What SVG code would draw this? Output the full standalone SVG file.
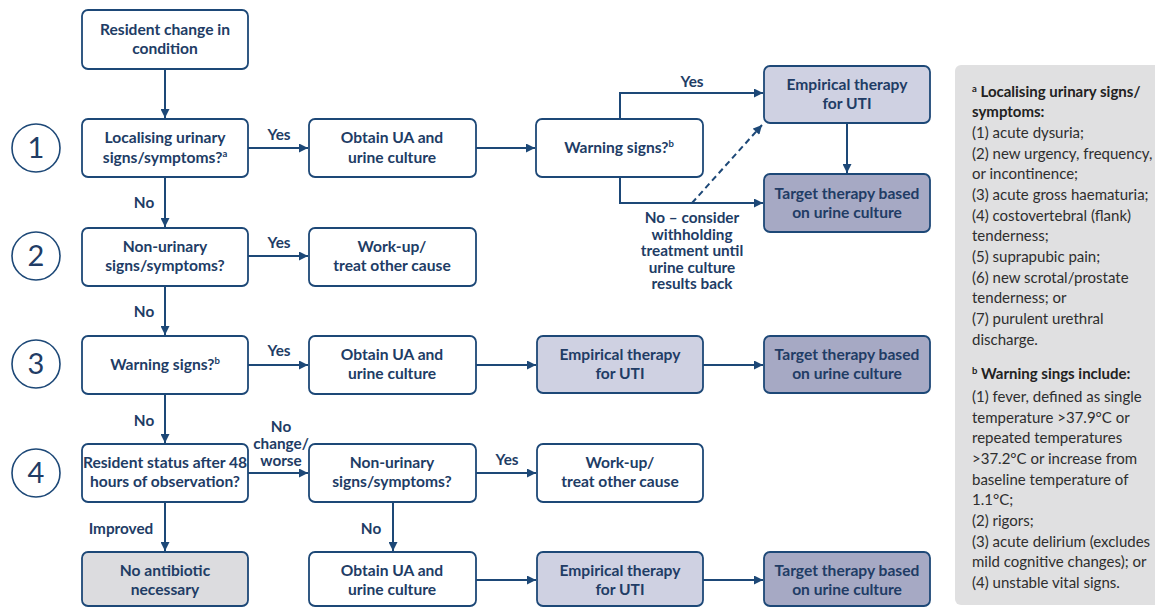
<svg xmlns="http://www.w3.org/2000/svg" width="1155" height="608" viewBox="0 0 1155 608">
<defs>
<style>
.box{fill:#fff;stroke:#1d4877;stroke-width:1.8}
.emp{fill:#cfd1e2;stroke:#1d4877;stroke-width:1.8}
.tgt{fill:#a6a9c4;stroke:#1d4877;stroke-width:1.8}
.none{fill:#dcdcdf;stroke:#1d4877;stroke-width:1.8}
.t{font-family:Lato,"Liberation Sans",sans-serif;font-size:15.6px;font-weight:700;fill:#213c65;text-anchor:middle}
.lbl{font-family:Lato,"Liberation Sans",sans-serif;font-size:15.3px;font-weight:700;fill:#213c65;text-anchor:middle}
.num{font-family:Lato,"Liberation Sans",sans-serif;font-size:29px;fill:#213c65;text-anchor:middle}
.circ{fill:#fff;stroke:#1d4877;stroke-width:1.6}
.ln{fill:none;stroke:#1d4877;stroke-width:2}
.dash{fill:none;stroke:#1d4877;stroke-width:2;stroke-dasharray:6 4}
.p{font-family:Lato,"Liberation Sans",sans-serif;font-size:15px;fill:#2e2e2e;}
.ph{font-family:Lato,"Liberation Sans",sans-serif;font-size:15px;font-weight:700;fill:#222;}
.sup{font-size:9.5px}
</style>
<marker id="ah" viewBox="0 0 10 10" refX="10" refY="5" markerWidth="10" markerHeight="9" markerUnits="userSpaceOnUse" orient="auto">
<path d="M0,0 L10,5 L0,10 z" fill="#1d4877"/>
</marker>
</defs>

<g id="steps">
<g id="step1"><circle class="circ" cx="36" cy="148" r="24"/><text class="num" x="36" y="158">1</text></g>
<g id="step2"><circle class="circ" cx="36" cy="256" r="24"/><text class="num" x="36" y="266">2</text></g>
<g id="step3"><circle class="circ" cx="36" cy="364" r="24"/><text class="num" x="36" y="374">3</text></g>
<g id="step4"><circle class="circ" cx="36" cy="473" r="24"/><text class="num" x="36" y="483">4</text></g>
</g>

<g id="connectors">
<path class="ln" d="M165,69 V118" marker-end="url(#ah)"/>
<path class="ln" d="M248,148 H308" marker-end="url(#ah)"/>
<path class="ln" d="M476,148 H535" marker-end="url(#ah)"/>
<path class="ln" d="M620,119 V93 H763" marker-end="url(#ah)"/>
<path class="ln" d="M620,177 V203 H763" marker-end="url(#ah)"/>
<path class="dash" d="M692,203 L762,125" marker-end="url(#ah)"/>
<path class="ln" d="M847,123 V173" marker-end="url(#ah)"/>
<path class="ln" d="M165,177 V227" marker-end="url(#ah)"/>
<path class="ln" d="M248,256 H308" marker-end="url(#ah)"/>
<path class="ln" d="M165,286 V335" marker-end="url(#ah)"/>
<path class="ln" d="M248,365 H308" marker-end="url(#ah)"/>
<path class="ln" d="M476,365 H536" marker-end="url(#ah)"/>
<path class="ln" d="M703,365 H763" marker-end="url(#ah)"/>
<path class="ln" d="M165,394 V443" marker-end="url(#ah)"/>
<path class="ln" d="M248,473 H308" marker-end="url(#ah)"/>
<path class="ln" d="M476,473 H536" marker-end="url(#ah)"/>
<path class="ln" d="M165,502 V551" marker-end="url(#ah)"/>
<path class="ln" d="M393,502 V551" marker-end="url(#ah)"/>
<path class="ln" d="M476,580 H536" marker-end="url(#ah)"/>
<path class="ln" d="M703,580 H763" marker-end="url(#ah)"/>
<text class="lbl" x="279" y="140">Yes</text>
<text class="lbl" x="692" y="87">Yes</text>
<text class="lbl" x="144" y="208">No</text>
<text class="lbl" x="279" y="248">Yes</text>
<text class="lbl" x="144" y="317">No</text>
<text class="lbl" x="279" y="356">Yes</text>
<text class="lbl" x="144" y="426">No</text>
<text class="lbl" x="281" y="432">No</text>
<text class="lbl" x="281" y="449">change/</text>
<text class="lbl" x="281" y="466">worse</text>
<text class="lbl" x="507" y="465">Yes</text>
<text class="lbl" x="121" y="534">Improved</text>
<text class="lbl" x="371" y="534">No</text>
<text class="lbl" x="692" y="223">No – consider</text>
<text class="lbl" x="692" y="240">withholding</text>
<text class="lbl" x="692" y="256">treatment until</text>
<text class="lbl" x="692" y="273">urine culture</text>
<text class="lbl" x="692" y="289">results back</text>
</g>

<g id="n-resident"><rect class="box" x="82" y="10" width="166" height="59" rx="6"/><text class="t" x="165" y="35">Resident change in</text><text class="t" x="165" y="54">condition</text></g>
<g id="n-localising"><rect class="box" x="82" y="119" width="166" height="58" rx="6"/><text class="t" x="165" y="143">Localising urinary</text><text class="t" x="165" y="163">signs/symptoms?<tspan class="sup" dy="-6">a</tspan></text></g>
<g id="n-obtain1"><rect class="box" x="309" y="119" width="167" height="58" rx="6"/><text class="t" x="392" y="143">Obtain UA and</text><text class="t" x="392" y="163">urine culture</text></g>
<g id="n-warn1"><rect class="box" x="536" y="119" width="167" height="58" rx="6"/><text class="t" x="619" y="153">Warning signs?<tspan class="sup" dy="-6">b</tspan></text></g>
<g id="n-emp1"><rect class="emp" x="764" y="66" width="166" height="57" rx="6"/><text class="t" x="847" y="90">Empirical therapy</text><text class="t" x="847" y="109">for UTI</text></g>
<g id="n-tgt1"><rect class="tgt" x="764" y="174" width="166" height="58" rx="6"/><text class="t" x="847" y="199">Target therapy based</text><text class="t" x="847" y="218">on urine culture</text></g>

<g id="n-nonuri2"><rect class="box" x="82" y="228" width="166" height="58" rx="6"/><text class="t" x="165" y="252">Non-urinary</text><text class="t" x="165" y="271">signs/symptoms?</text></g>
<g id="n-workup2"><rect class="box" x="309" y="228" width="167" height="58" rx="6"/><text class="t" x="392" y="252">Work-up/</text><text class="t" x="392" y="271">treat other cause</text></g>

<g id="n-warn3"><rect class="box" x="82" y="336" width="166" height="58" rx="6"/><text class="t" x="165" y="370">Warning signs?<tspan class="sup" dy="-6">b</tspan></text></g>
<g id="n-obtain3"><rect class="box" x="309" y="336" width="167" height="58" rx="6"/><text class="t" x="392" y="360">Obtain UA and</text><text class="t" x="392" y="379">urine culture</text></g>
<g id="n-emp3"><rect class="emp" x="537" y="336" width="166" height="57" rx="6"/><text class="t" x="620" y="360">Empirical therapy</text><text class="t" x="620" y="379">for UTI</text></g>
<g id="n-tgt3"><rect class="tgt" x="764" y="336" width="166" height="57" rx="6"/><text class="t" x="847" y="360">Target therapy based</text><text class="t" x="847" y="379">on urine culture</text></g>

<g id="n-status4"><rect class="box" x="82" y="444" width="166" height="58" rx="6"/><text class="t" x="165" y="468">Resident status after 48</text><text class="t" x="165" y="487">hours of observation?</text></g>
<g id="n-nonuri4"><rect class="box" x="309" y="444" width="167" height="58" rx="6"/><text class="t" x="392" y="468">Non-urinary</text><text class="t" x="392" y="487">signs/symptoms?</text></g>
<g id="n-workup4"><rect class="box" x="537" y="444" width="166" height="58" rx="6"/><text class="t" x="620" y="468">Work-up/</text><text class="t" x="620" y="487">treat other cause</text></g>

<g id="n-noabx"><rect class="none" x="82" y="552" width="166" height="54" rx="6"/><text class="t" x="165" y="576">No antibiotic</text><text class="t" x="165" y="595">necessary</text></g>
<g id="n-obtain5"><rect class="box" x="309" y="552" width="167" height="54" rx="6"/><text class="t" x="392" y="576">Obtain UA and</text><text class="t" x="392" y="595">urine culture</text></g>
<g id="n-emp5"><rect class="emp" x="537" y="552" width="166" height="54" rx="6"/><text class="t" x="620" y="576">Empirical therapy</text><text class="t" x="620" y="595">for UTI</text></g>
<g id="n-tgt5"><rect class="tgt" x="764" y="552" width="166" height="54" rx="6"/><text class="t" x="847" y="576">Target therapy based</text><text class="t" x="847" y="595">on urine culture</text></g>

<g id="panel">
<rect x="955" y="65" width="210" height="540" rx="6" fill="#e0e0e1"/>
<text class="ph" x="972" y="97"><tspan class="sup" dy="-5">a</tspan><tspan dy="5"> Localising urinary signs/</tspan></text>
<text class="ph" x="972" y="117">symptoms:</text>
<text class="p" x="972" y="138">(1) acute dysuria;</text>
<text class="p" x="972" y="159">(2) new urgency, frequency,</text>
<text class="p" x="972" y="179">or incontinence;</text>
<text class="p" x="972" y="200">(3) acute gross haematuria;</text>
<text class="p" x="972" y="221">(4) costovertebral (flank)</text>
<text class="p" x="972" y="241">tenderness;</text>
<text class="p" x="972" y="262">(5) suprapubic pain;</text>
<text class="p" x="972" y="283">(6) new scrotal/prostate</text>
<text class="p" x="972" y="303">tenderness; or</text>
<text class="p" x="972" y="324">(7) purulent urethral</text>
<text class="p" x="972" y="345">discharge.</text>
<text class="ph" x="972" y="379"><tspan class="sup" dy="-5">b</tspan><tspan dy="5"> Warning sings include:</tspan></text>
<text class="p" x="972" y="402">(1) fever, defined as single</text>
<text class="p" x="972" y="423">temperature &gt;37.9°C or</text>
<text class="p" x="972" y="443">repeated temperatures</text>
<text class="p" x="972" y="464">&gt;37.2°C or increase from</text>
<text class="p" x="972" y="485">baseline temperature of</text>
<text class="p" x="972" y="505">1.1°C;</text>
<text class="p" x="972" y="526">(2) rigors;</text>
<text class="p" x="972" y="547">(3) acute delirium (excludes</text>
<text class="p" x="972" y="567">mild cognitive changes); or</text>
<text class="p" x="972" y="588">(4) unstable vital signs.</text>
</g>
</svg>
